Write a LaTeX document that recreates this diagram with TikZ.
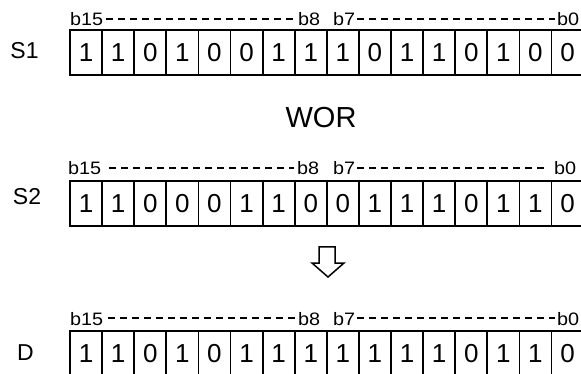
\documentclass[tikz,border=0pt]{standalone}
\usepackage{fontspec}
\setmainfont{Liberation Sans}
\newfontfamily\blabfont[FakeStretch=1.1]{Liberation Sans}
\begin{document}
\begin{tikzpicture}[x=1pt,y=-1pt,
  cell/.style={draw, line width=1.8pt, outer sep=0pt, inner sep=0pt,
    minimum width=32.1pt, minimum height=45pt, anchor=north west,
    font=\fontsize{26}{26}\selectfont},
  blab/.style={inner sep=0pt, anchor=base west, font=\blabfont\fontsize{18}{18}\selectfont},
  rlab/.style={inner sep=0pt, font=\fontsize{23}{23}\selectfont},
  dsh/.style={line width=1.3pt, dash pattern=on 7pt off 5pt}]
\useasboundingbox (0,0) rectangle (581,374);
% S1 row
\node[rlab] (s1) at (24.5,51) {S1};
\foreach \b [count=\i from 0] in {1,1,0,1,0,0,1,1,1,0,1,1,0,1,0,0}
  \node[cell] (a\i) at (70+32.1*\i,30) {\b};
\node[blab] (a15l) at (70,26) {b15};
\node[blab] (a8l) at (298,26) {b8};
\node[blab] (a7l) at (333,26) {b7};
\node[blab] (a0l) at (557,26) {b0};
\draw[dsh] ([shift={(3,-7)}]a15l.base east) -- ([shift={(-3,-7)}]a8l.base west);
\draw[dsh] ([shift={(2,-7)}]a7l.base east) -- ([shift={(-2,-7)}]a0l.base west);
% WOR
\node[inner sep=0pt, font=\fontsize{29}{29}\selectfont] (wor) at (321,117.5) {WOR};
% S2 row
\node[rlab] (s2) at (27,197) {S2};
\foreach \b [count=\i from 0] in {1,1,0,0,0,1,1,0,0,1,1,1,0,1,1,0}
  \node[cell] (b\i) at (70+32.1*\i,181) {\b};
\node[blab] (b15l) at (68,175) {b15};
\node[blab] (b8l) at (297,175) {b8};
\node[blab] (b7l) at (333,175) {b7};
\node[blab] (b0l) at (554,175) {b0};
\draw[dsh] ([shift={(8,-7)}]b15l.base east) -- ([shift={(-3,-7)}]b8l.base west);
\draw[dsh] ([shift={(2,-7)}]b7l.base east) -- ([shift={(-8,-7)}]b0l.base west);
% arrow
\draw[line width=1.5pt, line join=miter] (319,247) -- (335,247) -- (335,263) -- (344,263)
  -- (328,277) -- (312,263) -- (319,263) -- cycle;
% D row
\node[rlab] (dl) at (25.5,353) {D};
\foreach \b [count=\i from 0] in {1,1,0,1,0,1,1,1,1,1,1,1,0,1,1,0}
  \node[cell] (d\i) at (70+32.1*\i,331) {\b};
\node[blab] (d15l) at (70,325) {b15};
\node[blab] (d8l) at (298,325) {b8};
\node[blab] (d7l) at (333,325) {b7};
\node[blab] (d0l) at (557,325) {b0};
\draw[dsh] ([shift={(5,-7)}]d15l.base east) -- ([shift={(-3,-7)}]d8l.base west);
\draw[dsh] ([shift={(2,-7)}]d7l.base east) -- ([shift={(-2,-7)}]d0l.base west);
\end{tikzpicture}
\end{document}
